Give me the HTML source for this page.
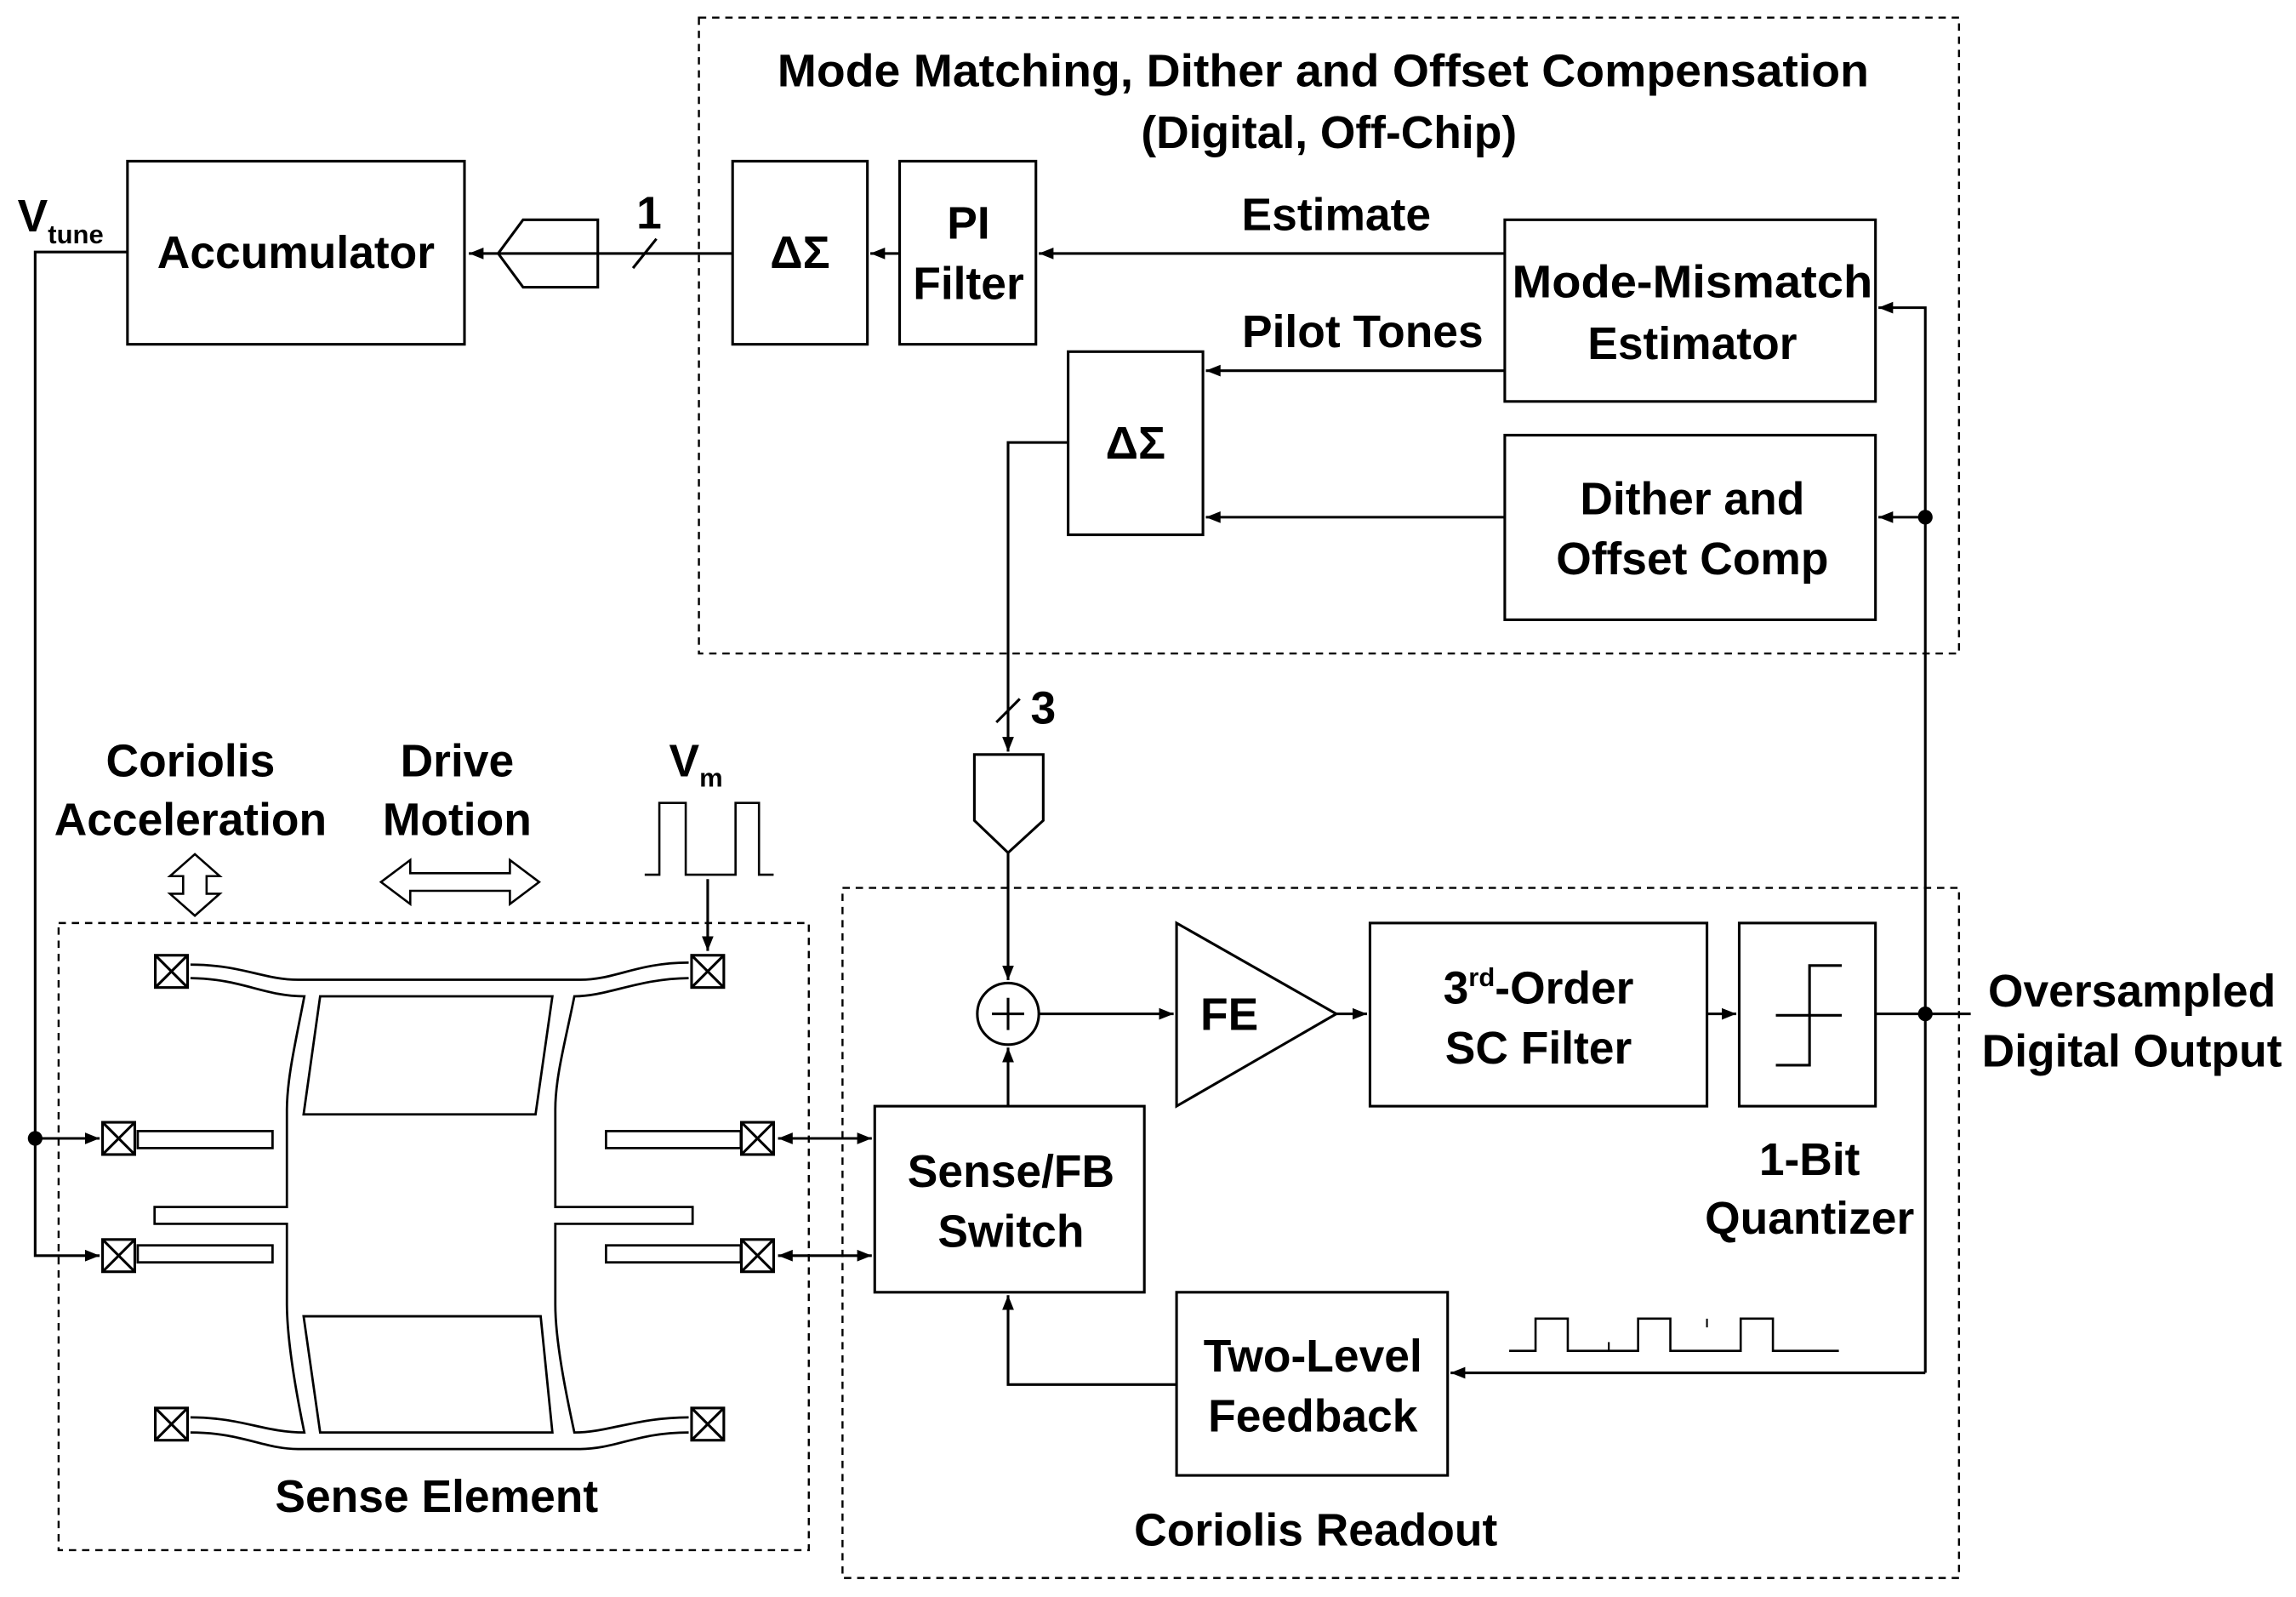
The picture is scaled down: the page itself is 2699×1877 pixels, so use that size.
<!DOCTYPE html>
<html><head><meta charset="utf-8"><style>html,body{margin:0;padding:0;background:#fff}svg{display:block}</style></head>
<body>
<svg width="2699" height="1877" viewBox="0 0 1567 1090" preserveAspectRatio="none" xmlns="http://www.w3.org/2000/svg" font-family="Liberation Sans, Arial, sans-serif" font-size="31" font-weight="bold">
<defs>
<marker id="a" viewBox="0 0 10 10" refX="10" refY="5" markerWidth="10" markerHeight="10" markerUnits="userSpaceOnUse" orient="auto-start-reverse"><path d="M0,1 L10,5 L0,9 z" fill="#000"/></marker>
</defs>
<rect width="1567" height="1090" fill="#fff"/>
<g fill="none" stroke="#000" stroke-width="1.8">
<rect x="477" y="12" width="860" height="434" stroke-dasharray="5,4" stroke-width="1.4"/>
<rect x="575" y="606" width="762" height="471" stroke-dasharray="5,4" stroke-width="1.4"/>
<rect x="40" y="630" width="512" height="428" stroke-dasharray="5,4" stroke-width="1.4"/>
<rect x="87" y="110" width="230" height="125"/>
<rect x="500" y="110" width="92" height="125"/>
<rect x="614" y="110" width="93" height="125"/>
<rect x="1027" y="150" width="253" height="124"/>
<rect x="729" y="240" width="92" height="125"/>
<rect x="1027" y="297" width="253" height="126"/>
<rect x="597" y="755" width="184" height="127"/>
<rect x="935" y="630" width="230" height="125"/>
<rect x="1187" y="630" width="93" height="125"/>
<rect x="803" y="882" width="185" height="125"/>
<polygon points="408,150 357,150 340,173 357,196 408,196"/>
<polygon points="665,515 712,515 712,560 688,582 665,560"/>
<polygon points="803,630 803,755 912,692"/>
<circle cx="688" cy="692" r="21"/>
<path d="M677,692 H699 M688,681 V703"/>
<path d="M1212,727 H1235 V659 H1257 M1212,693 H1257"/>
<path d="M500,173 H320" marker-end="url(#a)"/>
<path d="M432,183 L448,163"/>
<path d="M614,173 H594" marker-end="url(#a)"/>
<path d="M1027,173 H709" marker-end="url(#a)"/>
<path d="M1027,253 H823" marker-end="url(#a)"/>
<path d="M1027,353 H823" marker-end="url(#a)"/>
<path d="M729,302 H688 V513" marker-end="url(#a)"/>
<path d="M680,493 L696,477"/>
<path d="M688,582 V669" marker-end="url(#a)"/>
<path d="M688,755 V715" marker-end="url(#a)"/>
<path d="M709,692 H801" marker-end="url(#a)"/>
<path d="M912,692 H933" marker-end="url(#a)"/>
<path d="M1165,692 H1185" marker-end="url(#a)"/>
<path d="M1280,692 H1345"/>
<path d="M1314,937 V210 H1282" marker-end="url(#a)"/>
<path d="M1314,353 H1282" marker-end="url(#a)"/>
<path d="M1314,937 H990" marker-end="url(#a)"/>
<path d="M803,945 H688 V884" marker-end="url(#a)"/>
<path d="M87,172 H24 V857 H68" marker-end="url(#a)"/>
<path d="M24,777 H68" marker-end="url(#a)"/>
<path d="M531,777 H595" marker-start="url(#a)" marker-end="url(#a)"/>
<path d="M531,857 H595" marker-start="url(#a)" marker-end="url(#a)"/>
<path d="M483,600 V649" marker-end="url(#a)"/>
<path d="M1030,922 H1048 V900 H1070 V922 H1118 V900 H1140 V922 H1188 V900 H1210 V922 H1255" stroke-width="1.5"/>
<path d="M1098,922 V916 M1165,900 V906 M1188,922 V916" stroke-width="1.2"/>
<path d="M440,597 H450 V548 H468 V597 H502 V548 H518 V597 H528" stroke-width="1.5"/>
<polygon points="133,583 150,598 141,598 141,610 150,610 133,625 116,610 125,610 125,598 116,598" stroke-width="1.5"/>
<polygon points="260,602 280,587 280,596 348,596 348,587 368,602 348,617 348,608 280,608 280,617" stroke-width="1.5"/>
<g stroke-width="1.6">
<path d="M130,667.6 C165,668 180,680 207.7,680 C202,710 196,735 195.8,757 V823.8 H105.5 V835.3 H195.8 V890.4 C196,915 202,950 207.7,977.7 C180,977.7 165,967.4 130,967.4"/>
<path d="M470,667.6 C435,668 415,680 392,680 C386,710 379,735 379,757 V823.8 H472.7 V835.3 H379 V890.4 C379,915 386,950 392,977.7 C415,977.7 435,967.4 470,967.4"/>
<path d="M130,658.4 C165,658.4 180,668.7 203.4,668.7 H396 C420,668.7 435,657 470,657"/>
<path d="M130,977.7 C165,977.7 180,989 203.4,989 H396 C420,989 435,977.7 470,977.7"/>
<polygon points="218.5,680 377,680 365.5,760.6 207.2,760.6"/>
<polygon points="207.2,898.4 369,898.4 377,977.7 218.5,977.7"/>
<rect x="94" y="772" width="92" height="11.6"/>
<rect x="94" y="850" width="92" height="11.6"/>
<rect x="413.6" y="772" width="92" height="11.6"/>
<rect x="413.6" y="850" width="92" height="11.6"/>
</g>
</g>
<g fill="#fff" stroke="#000" stroke-width="1.8">
<rect x="106" y="652" width="22" height="22"/><path d="M106,652 l22,22 M128,652 l-22,22"/>
<rect x="472" y="652" width="22" height="22"/><path d="M472,652 l22,22 M494,652 l-22,22"/>
<rect x="70" y="766" width="22" height="22"/><path d="M70,766 l22,22 M92,766 l-22,22"/>
<rect x="70" y="846" width="22" height="22"/><path d="M70,846 l22,22 M92,846 l-22,22"/>
<rect x="506" y="766" width="22" height="22"/><path d="M506,766 l22,22 M528,766 l-22,22"/>
<rect x="506" y="846" width="22" height="22"/><path d="M506,846 l22,22 M528,846 l-22,22"/>
<rect x="106" y="961" width="22" height="22"/><path d="M106,961 l22,22 M128,961 l-22,22"/>
<rect x="472" y="961" width="22" height="22"/><path d="M472,961 l22,22 M494,961 l-22,22"/>
</g>
<g fill="#000" stroke="none">
<circle cx="1314" cy="353" r="5"/><circle cx="1314" cy="692" r="5"/><circle cx="24" cy="777" r="5"/>
</g>
<g fill="#000" stroke="none" text-anchor="middle">
<text x="903" y="59" textLength="745" lengthAdjust="spacingAndGlyphs">Mode Matching, Dither and Offset Compensation</text>
<text x="907" y="101">(Digital, Off-Chip)</text>
<text x="202" y="183">Accumulator</text>
<text x="546" y="183">ΔΣ</text>
<text x="661" y="163">PI</text>
<text x="661" y="204">Filter</text>
<text x="912" y="157">Estimate</text>
<text x="930" y="237">Pilot Tones</text>
<text x="1155" y="203" textLength="246" lengthAdjust="spacingAndGlyphs">Mode-Mismatch</text>
<text x="1155" y="245">Estimator</text>
<text x="775" y="313">ΔΣ</text>
<text x="1155" y="351">Dither and</text>
<text x="1155" y="392">Offset Comp</text>
<text x="443" y="156">1</text>
<text x="712" y="494">3</text>
<text x="839" y="703">FE</text>
<text x="1050" y="685">3<tspan font-size="18" dy="-12">rd</tspan><tspan dy="12">-Order</tspan></text>
<text x="1050" y="726">SC Filter</text>
<text x="1455" y="687">Oversampled</text>
<text x="1455" y="728">Digital Output</text>
<text x="1235" y="802">1-Bit</text>
<text x="1235" y="842">Quantizer</text>
<text x="690" y="810">Sense/FB</text>
<text x="690" y="851">Switch</text>
<text x="896" y="936">Two-Level</text>
<text x="896" y="977">Feedback</text>
<text x="898" y="1055">Coriolis Readout</text>
<text x="298" y="1032">Sense Element</text>
<text x="130" y="530">Coriolis</text>
<text x="130" y="570">Acceleration</text>
<text x="312" y="530">Drive</text>
<text x="312" y="570">Motion</text>
<text x="475" y="530">V<tspan font-size="18" dy="7">m</tspan></text>
<text x="12" y="158" text-anchor="start">V<tspan font-size="18" dy="8">tune</tspan></text>
</g>
</svg>
</body></html>
